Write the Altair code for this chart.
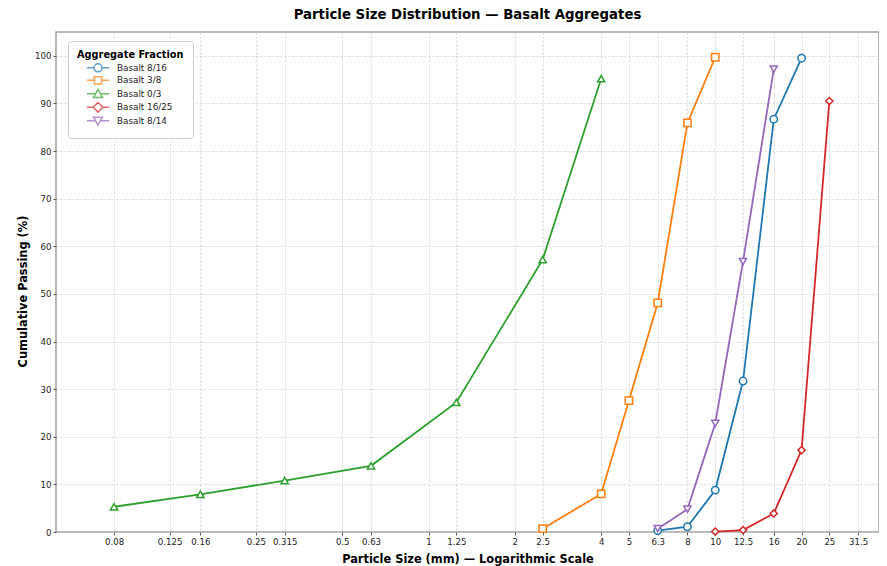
import altair as alt
import pandas as pd

series_names = ["Basalt 8/16", "Basalt 3/8", "Basalt 0/3", "Basalt 16/25", "Basalt 8/14"]
colors = ["#1f77b4", "#ff7f0e", "#2ca02c", "#d62728", "#9467bd"]

sizes_8_16 = [6.3, 8, 10, 12.5, 16, 20]
pass_8_16 = [0.3, 1.1, 8.8, 31.7, 86.7, 99.5]
sizes_3_8 = [2.5, 4, 5, 6.3, 8, 10]
pass_3_8 = [0.7, 8.0, 27.6, 48.1, 85.9, 99.7]
sizes_0_3 = [0.08, 0.16, 0.315, 0.63, 1.25, 2.5, 4]
pass_0_3 = [5.3, 7.9, 10.8, 13.9, 27.2, 57.2, 95.2]
sizes_16_25 = [10, 12.5, 16, 20, 25]
pass_16_25 = [0.1, 0.4, 3.9, 17.2, 90.5]
sizes_8_14 = [6.3, 8, 10, 12.5, 16]
pass_8_14 = [0.7, 4.8, 22.8, 56.8, 97.2]

x_ticks = [0.08, 0.125, 0.16, 0.25, 0.315, 0.5, 0.63, 1, 1.25, 2, 2.5, 4, 5,
           6.3, 8, 10, 12.5, 16, 20, 25, 31.5]
y_ticks = list(range(0, 101, 10))

all_sizes = [sizes_8_16, sizes_3_8, sizes_0_3, sizes_16_25, sizes_8_14]
all_pass = [pass_8_16, pass_3_8, pass_0_3, pass_16_25, pass_8_14]

rows = []
for name, xs, ys in zip(series_names, all_sizes, all_pass):
    for xv, yv in zip(xs, ys):
        rows.append({"series": name, "size": xv, "passing": yv})
df = pd.DataFrame(rows)

plot_shapes = ["circle", "square", "triangle-up", "diamond", "triangle-down"]
plot_sizes = [55, 50, 60, 95, 60]
legend_shapes = [
    "M-2.8,0H-1M1,0H2.8M-1,0A1,1,0,1,1,1,0A1,1,0,1,1,-1,0Z",
    "M-2.8,0H-0.9M0.9,0H2.8M-0.9,-0.9H0.9V0.9H-0.9Z",
    "M-2.8,0H-0.6M0.6,0H2.8M0,-1.1L1.1,0.9H-1.1Z",
    "M-2.8,0H-1.2M1.2,0H2.8M0,-1.2L1.2,0L0,1.2L-1.2,0Z",
    "M-2.8,0H-0.6M0.6,0H2.8M0,1.1L1.1,-0.9H-1.1Z",
]

xscale = alt.Scale(type="log", domain=[0.0502, 37.25], nice=False)
yscale = alt.Scale(domain=[0, 105], nice=False)

x_enc = alt.X("size:Q", scale=xscale,
              axis=alt.Axis(values=x_ticks, format="~g",
                            title="Particle Size (mm) — Logarithmic Scale",
                            tickSize=3, labelPadding=2, titlePadding=8))
y_enc = alt.Y("passing:Q", scale=yscale,
              axis=alt.Axis(values=y_ticks, title="Cumulative Passing (%)",
                            tickSize=3, labelPadding=2, titlePadding=6, titleY=259))

base = alt.Chart(df)

lines = base.mark_line(strokeWidth=1.8).encode(
    x=x_enc, y=y_enc,
    color=alt.Color("series:N", scale=alt.Scale(domain=series_names, range=colors), legend=None),
    detail="series:N",
)

points = base.mark_point(fill="white", filled=False, strokeWidth=1.5, opacity=1).encode(
    x=x_enc, y=y_enc,
    stroke=alt.Stroke("series:N", scale=alt.Scale(domain=series_names, range=colors), legend=None),
    shape=alt.Shape("series:N", scale=alt.Scale(domain=series_names, range=plot_shapes), legend=None),
    size=alt.Size("series:N", scale=alt.Scale(domain=series_names, range=plot_sizes), legend=None),
)

legend_def = alt.Legend(
    title="Aggregate Fraction", orient="none", legendX=12, legendY=9,
    fillColor="white", strokeColor="#cccccc", cornerRadius=3, padding=9,
    titleFontSize=9.8, titleFontWeight="bold", titleColor="black",
    labelFontSize=8.8, labelColor="#222222",
    symbolSize=64, symbolStrokeWidth=1.5, symbolFillColor="white",
    symbolOffset=16, labelOffset=14, rowPadding=-1.5, titlePadding=3,
)

legend_layer = base.transform_calculate(
    Fraction="datum.series", yy="-50"
).mark_point(fill="white", filled=False, strokeWidth=1.5, size=64, clip=True).encode(
    x=alt.X("size:Q", scale=xscale),
    y=alt.Y("yy:Q", scale=yscale),
    stroke=alt.Stroke("Fraction:N", scale=alt.Scale(domain=series_names, range=colors), legend=legend_def),
    shape=alt.Shape("Fraction:N", scale=alt.Scale(domain=series_names, range=legend_shapes), legend=legend_def),
)

chart = alt.layer(legend_layer, lines, points).resolve_scale(
    shape="independent", stroke="independent"
).properties(
    width=823, height=500,
    title=alt.TitleParams("Particle Size Distribution — Basalt Aggregates",
                          fontSize=13.3, fontWeight="bold", color="black", offset=11),
    autosize=alt.AutoSizeParams(type="none"),
    padding={"left": 48, "top": 24, "right": 0, "bottom": 36},
).configure(
    font="DejaVu Sans",
).configure_view(
    stroke="#a0a0a0", strokeWidth=1.5,
).configure_axis(
    grid=True, gridColor="#cccccc", gridDash=[2, 2], gridWidth=0.8,
    domain=False, tickColor="#555555", labelColor="#222222", labelFontSize=8.6,
    titleFontSize=11.4, titleFontWeight="bold", titleColor="black",
    labelFont="DejaVu Sans", titleFont="DejaVu Sans",
)

chart.save("out.html", embed_options={"renderer": "svg", "actions": False})
